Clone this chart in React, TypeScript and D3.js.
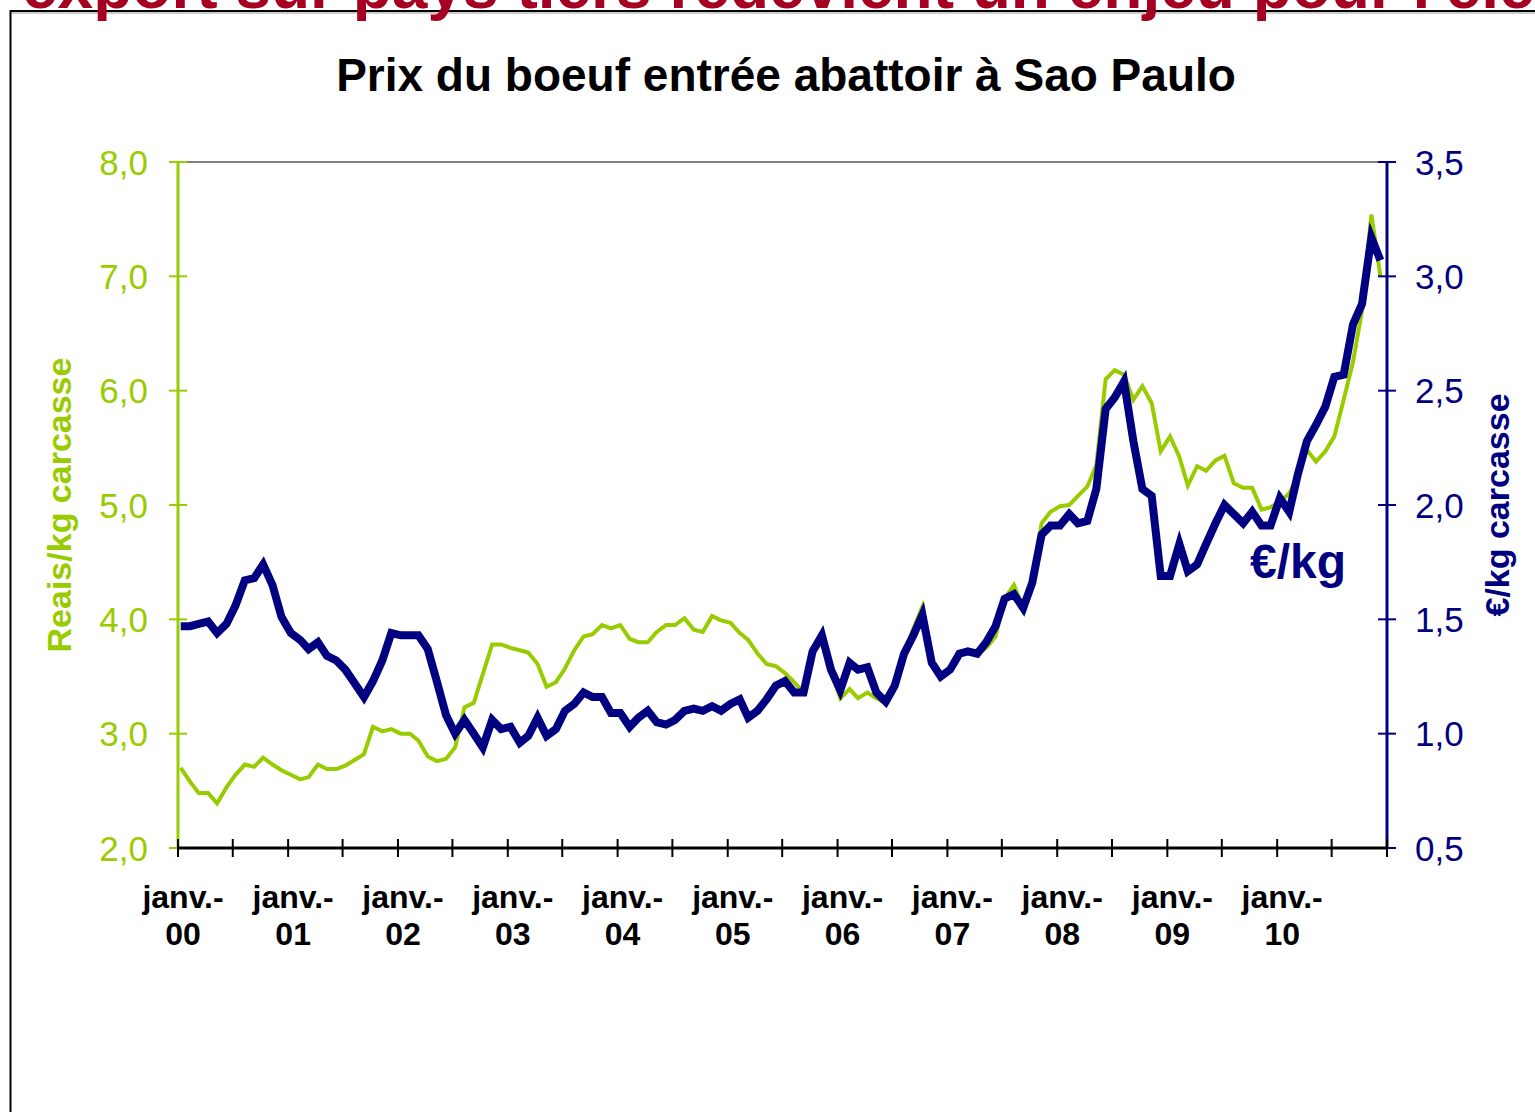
import React from "react";
import * as d3 from "d3";

// Monthly series, Jan 2000 -> Dec 2010
const reaisPerKg: number[] = [
  2.70, 2.58, 2.48, 2.48, 2.39, 2.53, 2.64, 2.73, 2.71, 2.79, 2.73, 2.68,
  2.64, 2.60, 2.62, 2.73, 2.69, 2.69, 2.72, 2.77, 2.82, 3.06, 3.02, 3.04,
  3.00, 3.00, 2.94, 2.80, 2.76, 2.78, 2.88, 3.23, 3.27, 3.52, 3.78, 3.78,
  3.75, 3.73, 3.71, 3.61, 3.41, 3.45, 3.57, 3.73, 3.85, 3.87, 3.95, 3.92,
  3.95, 3.83, 3.80, 3.80, 3.89, 3.95, 3.95, 4.01, 3.91, 3.89, 4.03, 3.99,
  3.97, 3.88, 3.82, 3.70, 3.61, 3.59, 3.53, 3.45, 3.36, 3.70, 3.80, 3.55,
  3.31, 3.39, 3.31, 3.36, 3.31, 3.27, 3.40, 3.70, 3.92, 4.11, 3.62, 3.50,
  3.56, 3.70, 3.72, 3.69, 3.75, 3.85, 4.18, 4.30, 4.10, 4.32, 4.84, 4.94,
  4.99, 5.00, 5.08, 5.16, 5.35, 6.10, 6.18, 6.14, 5.92, 6.04, 5.89, 5.47,
  5.60, 5.42, 5.17, 5.34, 5.30, 5.39, 5.43, 5.19, 5.15, 5.15, 4.96, 4.98,
  5.03, 5.10, 5.25, 5.48, 5.38, 5.47, 5.60, 5.92, 6.25, 6.70, 7.54, 7.00,
];

const eurosPerKg: number[] = [
  1.47, 1.47, 1.48, 1.49, 1.44, 1.48, 1.56, 1.67, 1.68, 1.74, 1.65, 1.51,
  1.44, 1.41, 1.37, 1.40, 1.34, 1.32, 1.28, 1.22, 1.16, 1.23, 1.32, 1.44,
  1.43, 1.43, 1.43, 1.37, 1.23, 1.08, 1.00, 1.06, 1.00, 0.94, 1.06, 1.02,
  1.03, 0.96, 0.99, 1.07, 0.99, 1.02, 1.10, 1.13, 1.18, 1.16, 1.16, 1.09,
  1.09, 1.03, 1.07, 1.10, 1.05, 1.04, 1.06, 1.10, 1.11, 1.10, 1.12, 1.10,
  1.13, 1.15, 1.07, 1.10, 1.15, 1.21, 1.23, 1.18, 1.18, 1.36, 1.43, 1.28,
  1.19, 1.31, 1.28, 1.29, 1.18, 1.14, 1.21, 1.35, 1.43, 1.52, 1.31, 1.25,
  1.28, 1.35, 1.36, 1.35, 1.40, 1.47, 1.59, 1.61, 1.55, 1.66, 1.87, 1.91,
  1.91, 1.96, 1.92, 1.93, 2.07, 2.42, 2.47, 2.54, 2.28, 2.07, 2.04, 1.69,
  1.69, 1.83, 1.71, 1.74, 1.83, 1.92, 2.00, 1.96, 1.92, 1.97, 1.91, 1.91,
  2.03, 1.97, 2.13, 2.28, 2.35, 2.43, 2.56, 2.57, 2.79, 2.88, 3.17, 3.07,
];

const yearLabels: string[] = ["00", "01", "02", "03", "04", "05", "06", "07", "08", "09", "10"];
const leftTicks: number[] = [2, 3, 4, 5, 6, 7, 8];
const rightTicks: number[] = [0.5, 1, 1.5, 2, 2.5, 3, 3.5];

const titleText = "Prix du boeuf entrée abattoir à Sao Paulo";
const bannerText = "export sur pays tiers redevient un enjeu pour l'élevage";
const leftAxisTitle = "Reais/kg carcasse";
const rightAxisTitle = "€/kg carcasse";
const annotation = "€/kg";

const GREEN = "#99CC00";
const NAVY = "#000080";
const FONT = "'Liberation Sans', Arial, sans-serif";

export default function App() {
  const W = 1535;
  const H = 1112;
  const left = 178;
  const right = 1387;
  const top = 162;
  const bottom = 848;

  const start = new Date(2000, 0, 1);
  const end = new Date(2011, 0, 1);
  const x = d3.scaleTime().domain([start, end]).range([left, right]);
  const yL = d3.scaleLinear().domain([2, 8]).range([bottom, top]);
  const yR = d3.scaleLinear().domain([0.5, 3.5]).range([bottom, top]);

  const dates = reaisPerKg.map((_, i) => d3.timeDay.offset(d3.timeMonth.offset(start, i), 9));

  const lineL = d3
    .line<number>()
    .x((_, i) => x(dates[i]))
    .y((d) => yL(d));
  const lineR = d3
    .line<number>()
    .x((_, i) => x(dates[i]))
    .y((d) => yR(d));

  const halfYearTicks = d3.timeMonth.every(6)!.range(start, d3.timeDay.offset(end, 1));
  const fmt = (v: number) => d3.format(".1f")(v).replace(".", ",");

  return (
    <svg
      width={W}
      height={H}
      style={{ position: "absolute", left: 0, top: 0, background: "#fff" }}
      fontFamily={FONT}
    >
      <rect x={0} y={0} width={W} height={H} fill="#fff" />
      {/* outer frame */}
      <line x1={10} y1={13} x2={W} y2={13} stroke="#999" strokeWidth={1} />
      <line x1={10} y1={11} x2={W} y2={11} stroke="#000" strokeWidth={2} />
      <line x1={10.5} y1={10} x2={10.5} y2={H} stroke="#000" strokeWidth={2} />
      {/* cut-off banner title */}
      <text x={22} y={8} fontSize={64} fontWeight="bold" fill="#A50021">
        {bannerText}
      </text>

      {/* chart title */}
      <text x={786} y={91} fontSize={46} fontWeight="bold" textAnchor="middle" fill="#000">
        {titleText}
      </text>

      {/* plot top border */}
      <line x1={left} y1={top} x2={right} y2={top} stroke="#808080" strokeWidth={2} />

      {/* series */}
      <path d={lineL(reaisPerKg) || ""} fill="none" stroke={GREEN} strokeWidth={4} strokeLinejoin="miter" />
      <path d={lineR(eurosPerKg) || ""} fill="none" stroke={NAVY} strokeWidth={8} strokeLinejoin="miter" />

      {/* left axis */}
      <line x1={left} y1={top} x2={left} y2={bottom} stroke={GREEN} strokeWidth={3} />
      {leftTicks.map((t) => (
        <g key={"l" + t}>
          <line x1={left - 9} x2={left + 9} y1={yL(t)} y2={yL(t)} stroke={GREEN} strokeWidth={2} />
          <text x={148} y={yL(t)} dy="0.36em" textAnchor="end" fontSize={35} fill={GREEN}>
            {fmt(t)}
          </text>
        </g>
      ))}
      <text
        transform={`translate(71,505) rotate(-90)`}
        textAnchor="middle"
        fontSize={34}
        fontWeight="bold"
        fill={GREEN}
      >
        {leftAxisTitle}
      </text>

      {/* right axis */}
      <line x1={right} y1={top} x2={right} y2={bottom} stroke={NAVY} strokeWidth={3} />
      {rightTicks.map((t) => (
        <g key={"r" + t}>
          <line x1={right - 9} x2={right + 9} y1={yR(t)} y2={yR(t)} stroke={NAVY} strokeWidth={2} />
          <text x={1415} y={yR(t)} dy="0.36em" textAnchor="start" fontSize={35} fill={NAVY}>
            {fmt(t)}
          </text>
        </g>
      ))}
      <text
        transform={`translate(1509,505) rotate(-90)`}
        textAnchor="middle"
        fontSize={34}
        fontWeight="bold"
        fill={NAVY}
      >
        {rightAxisTitle}
      </text>

      {/* x axis */}
      <line x1={left} y1={bottom} x2={right} y2={bottom} stroke="#000" strokeWidth={3} />
      {halfYearTicks.map((d, i) => (
        <line key={"t" + i} x1={x(d)} x2={x(d)} y1={bottom - 9} y2={bottom + 9} stroke="#000" strokeWidth={2} />
      ))}
      {yearLabels.map((yl, i) => {
        const cx = x(new Date(2000 + i, 0, 1)) + 5;
        return (
          <g key={"x" + yl}>
            <text x={cx} y={908} textAnchor="middle" fontSize={32} fontWeight="bold" fill="#000">
              janv.-
            </text>
            <text x={cx} y={945} textAnchor="middle" fontSize={32} fontWeight="bold" fill="#000">
              {yl}
            </text>
          </g>
        );
      })}

      {/* annotation */}
      <text x={1250} y={578} fontSize={48} fontWeight="bold" fill={NAVY}>
        {annotation}
      </text>
    </svg>
  );
}
